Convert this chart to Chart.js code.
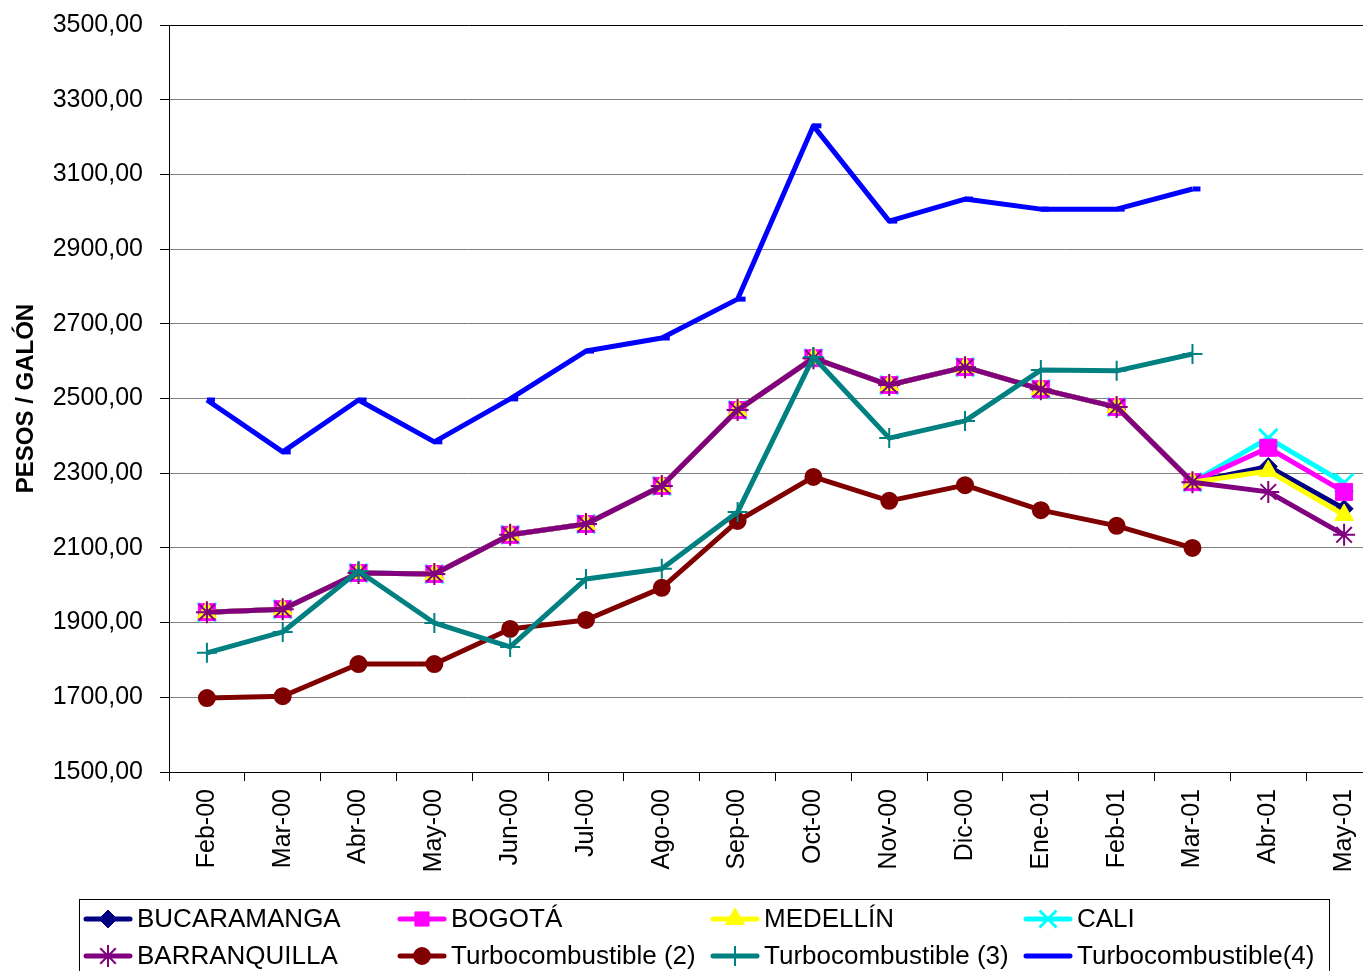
<!DOCTYPE html>
<html>
<head>
<meta charset="utf-8">
<script src="https://cdn.jsdelivr.net/npm/chart.js@4.4.0/dist/chart.umd.min.js"></script>
<style>
html,body{margin:0;padding:0;background:#fff;overflow:hidden;}
#wrap{width:1363px;height:971px;position:relative;}
canvas{display:block;}
</style>
</head>
<body>
<div id="wrap"><canvas id="c"></canvas></div>
<script>
const categories = ['Feb-00','Mar-00','Abr-00','May-00','Jun-00','Jul-00','Ago-00','Sep-00','Oct-00','Nov-00','Dic-00','Ene-01','Feb-01','Mar-01','Abr-01','May-01'];

const bucaramanga  = [1928,1936,2033,2030,2135,2164,2266,2469,2608,2536,2584,2525,2477,2276,2318,2205];
const bogota       = [1928,1936,2033,2030,2135,2164,2266,2469,2608,2536,2584,2525,2477,2276,2368,2250];
const medellin     = [1928,1936,2033,2030,2135,2164,2266,2469,2608,2536,2584,2525,2477,2276,2306,2188];
const cali         = [1928,1936,2033,2030,2135,2164,2266,2469,2608,2536,2584,2525,2477,2276,2394,2274];
const barranquilla = [1928,1936,2033,2030,2135,2164,2266,2469,2608,2536,2584,2525,2477,2276,2250,2135];
const turbo2 = [1698,1703,1789,1789,1883,1907,1993,2172,2290,2226,2268,2201,2159,2100,null,null];
const turbo3 = [1819,1875,2038,1899,1835,2017,2044,2196,2611,2394,2440,2576,2574,2619,null,null];
const turbo4 = [2496,2357,2496,2384,2499,2627,2662,2766,3230,2975,3034,3007,3007,3061,null,null];

const seriesLabels = ['BUCARAMANGA','BOGOTÁ','MEDELLÍN','CALI','BARRANQUILLA','Turbocombustible (2)','Turbocombustible (3)','Turbocombustible(4)'];
const yTicks = {min:1500, max:3500, step:200};

const FONT = "'Liberation Sans', Arial, sans-serif";
// the plot area of the original runs past the right edge of the picture
const PLOT_RIGHT = 1382;

function mk(i, data, color, style, radius, bw, legendMarker, order) {
  return {
    label: seriesLabels[i],
    data: data,
    borderColor: color,
    backgroundColor: color,
    borderWidth: 5,
    borderJoinStyle: 'round',
    pointStyle: style,
    pointRadius: radius,
    pointHoverRadius: radius,
    pointBackgroundColor: color,
    pointBorderColor: color,
    pointBorderWidth: bw,
    tension: 0,
    spanGaps: false,
    fill: false,
    clip: false,
    order: order,
    legendMarker: legendMarker
  };
}

const datasets = [
  mk(0, bucaramanga, '#000080', 'rectRot', 9, 1, true, 9),
  mk(1, bogota, '#FF00FF', 'rect', 12, 1, true, 7),
  mk(2, medellin, '#FFFF00', 'triangle', 11, 1, true, 6),
  mk(3, cali, '#00FFFF', 'crossRot', 13, 3, true, 8),
  mk(4, barranquilla, '#800080', 'star', 11, 2, true, 4),
  mk(5, turbo2, '#800000', 'circle', 8, 2, true, 3),
  mk(6, turbo3, '#008080', 'cross', 10, 2, true, 2),
  mk(7, turbo4, '#0000FF', 'dash', 8, 5, false, 1)
];

function drawMarker(ctx, style, r, x, y) {
  if (Chart.helpers && Chart.helpers.drawPoint) {
    Chart.helpers.drawPoint(ctx, {pointStyle: style, radius: r, borderWidth: ctx.lineWidth, rotation: 0}, x, y);
  }
}

const widenPlot = {
  id: 'widenPlot',
  afterLayout(chart) {
    const xs = chart.scales.x;
    chart.chartArea.right = PLOT_RIGHT;
    chart.chartArea.width = PLOT_RIGHT - chart.chartArea.left;
    xs.right = PLOT_RIGHT;
    xs.width = PLOT_RIGHT - xs.left;
    xs.configure();
  }
};

const legendGrid = {
  id: 'legendGrid',
  afterDraw(chart) {
    const ctx = chart.ctx;
    ctx.save();
    ctx.strokeStyle = '#000';
    ctx.lineWidth = 1;
    ctx.strokeRect(79.5, 899.5, 1250, 140);
    const cols = [83, 397, 710, 1023];
    const rows = [919, 956];
    chart.data.datasets.forEach((ds, i) => {
      const x = cols[i % 4];
      const y = rows[Math.floor(i / 4)];
      ctx.strokeStyle = ds.borderColor;
      ctx.lineWidth = 5;
      ctx.lineCap = 'round';
      ctx.beginPath();
      ctx.moveTo(x + 3, y);
      ctx.lineTo(x + 47, y);
      ctx.stroke();
      ctx.lineCap = 'butt';
      if (ds.legendMarker) {
        ctx.fillStyle = ds.pointBackgroundColor;
        ctx.strokeStyle = ds.pointBorderColor;
        ctx.lineWidth = ds.pointBorderWidth;
        let r = ds.pointRadius;
        if (ds.pointStyle === 'rect') r = 10;
        if (ds.pointStyle === 'crossRot') r = 12;
        drawMarker(ctx, ds.pointStyle, r, x + 25, y);
      }
      ctx.fillStyle = '#000';
      ctx.font = '26px ' + FONT;
      ctx.textBaseline = 'middle';
      ctx.textAlign = 'left';
      ctx.fillText(ds.label, x + 54, y + 1);
    });
    ctx.restore();
  }
};

new Chart(document.getElementById('c'), {
  type: 'line',
  data: { labels: categories, datasets: datasets },
  plugins: [widenPlot, legendGrid],
  options: {
    responsive: true,
    maintainAspectRatio: false,
    animation: false,
    devicePixelRatio: 1,
    layout: { autoPadding: false, padding: { top: 25, right: 1, bottom: 71, left: 0 } },
    plugins: {
      legend: { display: false },
      tooltip: { enabled: false },
      title: { display: false }
    },
    scales: {
      x: {
        type: 'category',
        offset: true,
        grid: { offset: true, drawOnChartArea: false, drawTicks: true, tickLength: 9, tickColor: '#000', tickWidth: 1 },
        border: { color: '#000', width: 1 },
        ticks: {
          minRotation: 90, maxRotation: 90, autoSkip: false, padding: 8,
          color: '#000', font: { family: FONT, size: 25 }
        },
        afterFit(s) { s.height = 128; s.paddingLeft = 0; s.paddingRight = 0; }
      },
      y: {
        min: yTicks.min, max: yTicks.max,
        ticks: {
          stepSize: yTicks.step, padding: 17, color: '#000',
          font: { family: FONT, size: 25 },
          callback: v => Number(v).toFixed(2).replace('.', ',')
        },
        grid: {
          color: c => (c.tick && c.tick.value === yTicks.max) ? '#000' : '#808080',
          lineWidth: 1, tickLength: 9, tickColor: '#000'
        },
        border: { color: '#000', width: 1 },
        title: {
          display: true, text: 'PESOS / GALÓN', color: '#000',
          font: { family: FONT, size: 24, weight: 'bold' },
          padding: { top: 12, bottom: 0 }
        },
        afterFit(s) { s.width = 169; s.paddingTop = 0; s.paddingBottom = 0; }
      }
    }
  }
});
</script>
</body>
</html>
